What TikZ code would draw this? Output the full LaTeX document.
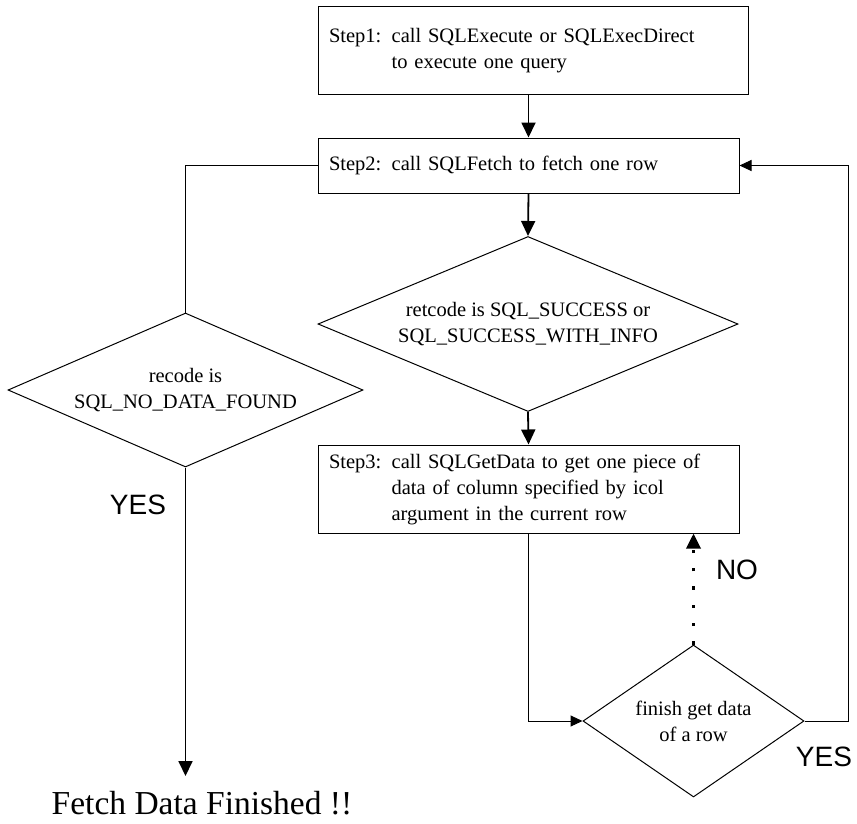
\documentclass[tikz,border=0pt]{standalone}
\usepackage{fontspec}
\setmainfont{Liberation Serif}
\newfontfamily\labelfont{Liberation Sans}
\usetikzlibrary{arrows.meta,shapes.geometric}

\begin{document}
\begin{tikzpicture}[x=1pt, y=-1pt,
    stepbox/.style={draw, line width=1pt, rectangle, minimum width=421pt, minimum height=88pt,
      inner xsep=11pt, text width=399pt, align=left, font=\fontsize{20.5}{26}\selectfont},
    testdiamond/.style={draw, line width=1pt, diamond, inner sep=0pt, align=center,
      font=\fontsize{20.5}{26}\selectfont},
    flow/.style={line width=1.8pt, -{Triangle[length=15pt,width=14pt]}},
    link/.style={line width=1pt},
    thinflow/.style={line width=1pt, -{Triangle[length=12pt,width=11pt]}},
    dotflow/.style={line width=3.3pt, dash pattern=on 3.3pt off 15pt, -{Triangle[length=15pt,width=14pt]}},
    answer/.style={font=\labelfont\fontsize{28}{30}\selectfont, inner sep=0pt}]
  \useasboundingbox (0,0) rectangle (857,823);
  % ---------- the main column ----------
  \node[stepbox, minimum width=430pt, text width=408pt] (step1) at (533,50)
    {\begin{tabular}{@{}l@{ }l@{}}Step1: & call SQLExecute or SQLExecDirect\\ & to execute one query\end{tabular}};
  \node[stepbox, minimum height=55pt] (step2) at (528.5,165.5)
    {Step2: call SQLFetch to fetch one row};
  \node[testdiamond, minimum width=420pt, minimum height=175pt, aspect=2.4] (retcode) at (528,324)
    {retcode is SQL\_SUCCESS or\\ SQL\_SUCCESS\_WITH\_INFO};
  \node[stepbox] (step3) at (528.5,489)
    {\begin{tabular}{@{}l@{ }l@{}}Step3: & call SQLGetData to get one piece of\\ & data of column specified by icol\\ & argument in the current row\end{tabular}};
  % ---------- the two tests ----------
  \node[testdiamond, minimum width=355pt, minimum height=154pt, aspect=2.3] (nodata) at (185.5,390)
    {recode is\\ SQL\_NO\_DATA\_FOUND};
  \node[testdiamond, minimum width=221pt, minimum height=152pt, aspect=1.45] (finish) at (693.5,721)
    {finish get data\\ of a row};
  \node[inner sep=0pt, font=\fontsize{33.5}{36}\selectfont] (fetchdone) at (202,803)
    {Fetch Data Finished !!};
  \coordinate (doneend) at (185.5,776);
  \coordinate (loopback) at (848,721);
  % ---------- connectors ----------
  \draw[flow] (step2.north |- step1.south) -- (step2.north);
  \draw[flow] (step2.south) -- (retcode.north);
  \draw[flow] (retcode.south) -- (step3.north);
  \draw[link] (step2.west) -| (nodata.north);
  \draw[flow] (nodata.south) -- (doneend);
  \draw[thinflow] (step3.south) |- (finish.west);
  \draw[dotflow] (finish.north) -- (finish.north |- step3.south);
  \draw[thinflow] (finish.east) -- (loopback) |- (step2.east);
  % ---------- answers ----------
  \node[answer] (yesleft) at (138,505) {YES};
  \node[answer] (noup) at (737,570) {NO};
  \node[answer] (yesright) at (824,757) {YES};
\end{tikzpicture}
\end{document}
